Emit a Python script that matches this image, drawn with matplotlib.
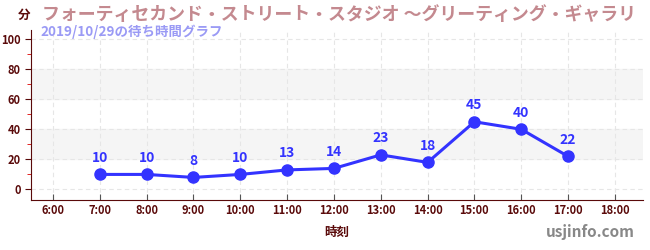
import matplotlib.pyplot as plt

plt.rcParams['font.family'] = ['Noto Sans CJK JP', 'DejaVu Sans']

hours = [7, 8, 9, 10, 11, 12, 13, 14, 15, 16, 17]
waits = [10, 10, 8, 10, 13, 14, 23, 18, 45, 40, 22]
xticks = list(range(6, 19))
xlabels = [f'{h}:00' for h in xticks]

dark = '#5a0a0a'
blue = '#3333ff'

fig = plt.figure(figsize=(6.5, 2.5), dpi=100)
ax = fig.add_axes([31 / 650, 50 / 250, 612 / 650, 170 / 250])
ax.set_xlim(5.53, 18.6)
ax.set_ylim(-7, 106)

for lo in (20, 60):
    ax.axhspan(lo, lo + 20, color='#f5f5f5', zorder=0)
for y in range(0, 101, 20):
    ax.axhline(y, color='#e6e6e6', lw=0.8, ls=(0, (4, 3)), zorder=0.5)
for x in xticks:
    ax.axvline(x, color='#e6e6e6', lw=0.8, ls=(0, (4, 3)), zorder=0.5)

ax.plot(hours, waits, color=blue, lw=2.2, marker='o', ms=8, zorder=3)
for h, w in zip(hours, waits):
    ax.annotate(str(w), (h, w), xytext=(0, 7), textcoords='offset points',
                ha='center', va='bottom', color=blue, fontsize=10, fontweight='bold')

ax.set_xticks(xticks)
ax.set_xticklabels(xlabels)
ax.set_yticks(range(0, 101, 20))
ax.set_yticks(range(10, 100, 20), minor=True)
ax.tick_params(axis='both', colors=dark, labelsize=8, length=4)
ax.tick_params(axis='x', color='#555555', direction='in', pad=3)
ax.tick_params(axis='y', which='minor', color='#dd0000', length=3)
for lbl in ax.get_xticklabels() + ax.get_yticklabels():
    lbl.set_fontweight('bold')
for s in ('top', 'right'):
    ax.spines[s].set_visible(False)
ax.spines['left'].set_color(dark)
ax.spines['bottom'].set_color(dark)

fig.text(18 / 650, 1 - 15 / 250, '分', color=dark, fontsize=9, fontweight='bold', va='center')
fig.text(42 / 650, 1 - 15 / 250, 'フォーティセカンド・ストリート・スタジオ ～グリーティング・ギャラリ',
         color='#c4898f', fontsize=12.9, fontweight='bold', va='center')
fig.text(40 / 650, 1 - 32 / 250, '2019/10/29の待ち時間グラフ', color='#9a9af5',
         fontsize=9.7, fontweight='bold', va='center')
fig.text(337 / 650, 1 - 232 / 250, '時刻', color=dark, fontsize=9, fontweight='bold',
         ha='center', va='center')
fig.text(635 / 650, 1 - 232 / 250, 'usjinfo.com', color='#888888', fontsize=11,
         fontweight='bold', ha='right', va='center')

fig.savefig('out.png', dpi=100)
